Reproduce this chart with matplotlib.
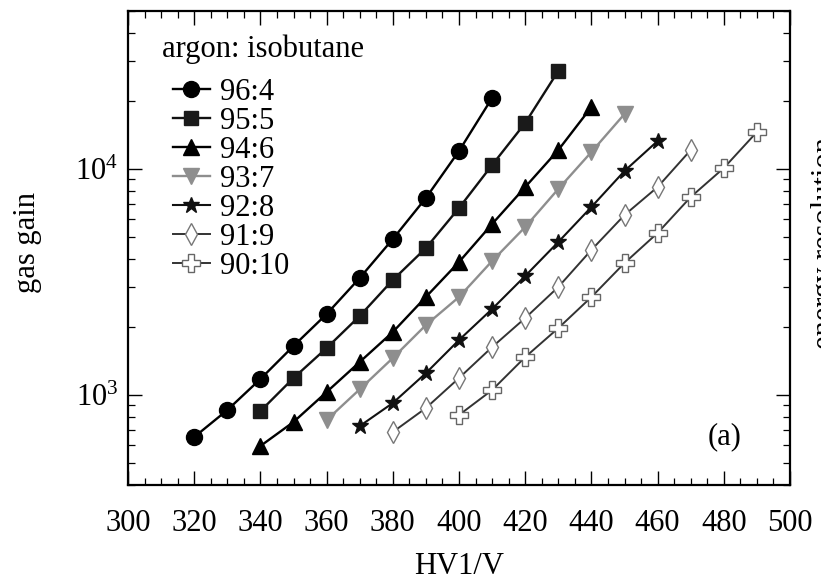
import matplotlib
matplotlib.use("Agg")
import matplotlib.pyplot as plt
from matplotlib.ticker import MultipleLocator, LogLocator, NullFormatter

plt.rcParams['font.family'] = 'serif'
plt.rcParams['font.serif'] = ['Liberation Serif', 'DejaVu Serif']
plt.rcParams['mathtext.fontset'] = 'stix'

# Gas gain vs. HV1 for argon:isobutane mixtures
mixtures = ["96:4", "95:5", "94:6", "93:7", "92:8", "91:9", "90:10"]

hv_96_4 = [320, 330, 340, 350, 360, 370, 380, 390, 400, 410]
gain_96_4 = [652, 858, 1177, 1648, 2281, 3294, 4898, 7444, 12010, 20620]

hv_95_5 = [340, 350, 360, 370, 380, 390, 400, 410, 420, 430]
gain_95_5 = [849, 1189, 1614, 2237, 3228, 4470, 6720, 10410, 15980, 27150]

hv_94_6 = [340, 350, 360, 370, 380, 390, 400, 410, 420, 430, 440]
gain_94_6 = [595, 760, 1031, 1400, 1900, 2716, 3877, 5710, 8320, 12130, 18800]

hv_93_7 = [360, 370, 380, 390, 400, 410, 420, 430, 440, 450]
gain_93_7 = [775, 1060, 1458, 2040, 2714, 3917, 5538, 8160, 11890, 17510]

hv_92_8 = [370, 380, 390, 400, 410, 420, 430, 440, 450, 460]
gain_92_8 = [729, 922, 1250, 1751, 2402, 3363, 4754, 6790, 9800, 13300]

hv_91_9 = [380, 390, 400, 410, 420, 430, 440, 450, 460, 470]
gain_91_9 = [686, 876, 1189, 1630, 2191, 3006, 4385, 6256, 8320, 12130]

hv_90_10 = [400, 410, 420, 430, 440, 450, 460, 470, 480, 490]
gain_90_10 = [816, 1052, 1472, 1977, 2714, 3837, 5212, 7516, 10100, 14580]

x_ticks = [300, 320, 340, 360, 380, 400, 420, 440, 460, 480, 500]

series = [
    (hv_96_4, gain_96_4, dict(color="black", marker="o", ms=11.5, mfc="black", mec="black", lw=1.7)),
    (hv_95_5, gain_95_5, dict(color="#111111", marker="s", ms=9.5, mfc="#1a1a1a", mec="#1a1a1a", lw=1.7)),
    (hv_94_6, gain_94_6, dict(color="black", marker="^", ms=12, mfc="black", mec="black", lw=1.7)),
    (hv_93_7, gain_93_7, dict(color="#8e8e8e", marker="v", ms=12, mfc="#8e8e8e", mec="#8e8e8e", lw=1.7)),
    (hv_92_8, gain_92_8, dict(color="#111111", marker="*", ms=12, mfc="#111111", mec="#111111", lw=1.5)),
    (hv_91_9, gain_91_9, dict(color="#333333", marker="d", ms=11, mfc="white", mec="#777777", mew=1.0, lw=1.4)),
    (hv_90_10, gain_90_10, dict(color="#333333", marker="P", ms=13, mfc="white", mec="#666666", mew=1.0, lw=1.4)),
]

W, H = 821, 584
fig = plt.figure(figsize=(W / 100, H / 100), dpi=100)
ax_l, ax_r, ax_t, ax_b = 128, 790, 11, 485
ax = fig.add_axes([ax_l / W, 1 - ax_b / H, (ax_r - ax_l) / W, (ax_b - ax_t) / H])

handles = []
for (hv, gain, style), name in zip(series, mixtures):
    h, = ax.plot(hv, gain, label=name, **style)
    handles.append(h)

ax.set_yscale("log")
ax.set_xlim(300, 500)
ax.set_ylim(400, 50000)

ax.set_xticks(x_ticks)
ax.xaxis.set_minor_locator(MultipleLocator(5))
ax.yaxis.set_major_locator(LogLocator(base=10, numticks=10))
ax.yaxis.set_minor_locator(LogLocator(base=10, subs=range(2, 10), numticks=20))
ax.yaxis.set_minor_formatter(NullFormatter())

ax.tick_params(which="both", direction="in", top=True, right=True, labelsize=22)
ax.tick_params(which="major", length=10, width=1.0)
ax.tick_params(which="minor", length=5, width=0.9)
ax.tick_params(axis="x", which="major", pad=17)
ax.tick_params(axis="y", which="major", pad=7)
for sp in ax.spines.values():
    sp.set_linewidth(1.6)

fig.text((ax_l + ax_r) / 2 / W, 1 - 566 / H, "HV1/V", ha="center", va="center", fontsize=22)
fig.text(28 / W, 1 - 243 / H, "gas gain", ha="center", va="center", rotation=90, fontsize=22)
fig.text(811 / W, 1 - 243 / H, "energy resolution", ha="left", va="center", rotation=90, fontsize=22)

aw, ah = ax_r - ax_l, ax_b - ax_t
ax.text((162 - ax_l) / aw, 1 - (49 - ax_t) / ah, "argon: isobutane", transform=ax.transAxes,
        ha="left", va="center", fontsize=22)
ax.text((725 - ax_l) / aw, 1 - (437 - ax_t) / ah, "(a)", transform=ax.transAxes,
        ha="center", va="center", fontsize=22)

leg = ax.legend(handles=handles, loc="upper left",
                bbox_to_anchor=((173 - ax_l) / aw, 1 - (78 - ax_t) / ah),
                frameon=False, fontsize=22, borderpad=0, borderaxespad=0,
                handlelength=1.2, handletextpad=0.35, labelspacing=0.0, numpoints=1)

fig.savefig("out.png", dpi=100)
